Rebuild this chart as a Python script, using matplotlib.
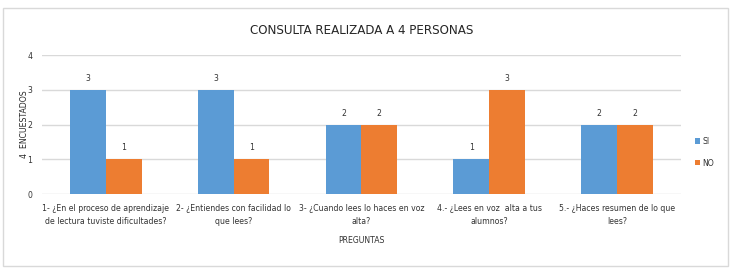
import matplotlib.pyplot as plt
import numpy as np
from matplotlib import font_manager as fm
from matplotlib.patches import Rectangle

preguntas = ['1- ¿En el proceso de aprendizaje\nde lectura tuviste dificultades?',
             '2- ¿Entiendes con facilidad lo\nque lees?',
             '3- ¿Cuando lees lo haces en voz\nalta?',
             '4.- ¿Lees en voz  alta a tus\nalumnos?',
             '5.- ¿Haces resumen de lo que\nlees?']
si = [3, 3, 2, 1, 2]
no = [1, 1, 2, 3, 2]

# pick a narrow font if there is one, the reference uses Calibri
names = {f.name for f in fm.fontManager.ttflist}
narrow = [f for f in fm.fontManager.ttflist
          if f.name == 'DejaVu Sans' and f.stretch == 'condensed' and f.weight in (400, 'normal')]
if 'Liberation Sans Narrow' in names:
    plt.rcParams['font.family'] = ['Liberation Sans Narrow', 'DejaVu Sans']
    k = 1.0
elif narrow:
    plt.rcParams['font.family'] = ['DejaVu Sans']
    plt.rcParams['font.stretch'] = 'condensed'
    k = 0.95
else:
    plt.rcParams['font.family'] = ['Liberation Sans', 'DejaVu Sans']
    k = 0.88
fs = 6.5 * k

fig = plt.figure(figsize=(7.32, 2.69), dpi=100)
fig.patches.append(Rectangle((0.004, 0.012), 0.99, 0.96, transform=fig.transFigure,
                             fill=False, edgecolor='#d9d9d9', linewidth=1))
ax = fig.add_axes([0.0574, 0.2788, 0.8726, 0.5167])

x = np.arange(len(si))
w = 0.28
b1 = ax.bar(x - w / 2, si, w, color='#5b9bd5', label='SI', zorder=3)
b2 = ax.bar(x + w / 2, no, w, color='#ed7d31', label='NO', zorder=3)
ax.bar_label(b1, padding=5, fontsize=fs, color='#333333')
ax.bar_label(b2, padding=5, fontsize=fs, color='#333333')

ax.set_xlim(-0.5, 4.5)
ax.set_ylim(0, 4)
ax.set_yticks([0, 1, 2, 3, 4])
ax.set_xticks(x)
ax.set_xticklabels(preguntas, fontsize=fs, color='#333333', linespacing=1.65)
ax.tick_params(axis='y', labelsize=fs, colors='#333333', length=0, pad=7)
ax.tick_params(axis='x', length=0, pad=7)
ax.grid(axis='y', color='#d9d9d9', linewidth=1, zorder=0)
for s in ax.spines.values():
    s.set_visible(False)

ax.set_title('CONSULTA REALIZADA A 4 PERSONAS', fontsize=10 * k, color='#262626', pad=15)
ax.set_ylabel('4  ENCUESTADOS', fontsize=fs, color='#262626', labelpad=-1)
ax.set_xlabel('PREGUNTAS', fontsize=fs, color='#333333', labelpad=7)

ax.legend(loc='center left', bbox_to_anchor=(1.01, 0.3), frameon=False, fontsize=fs,
          handlelength=0.6, handleheight=0.6, handletextpad=0.3, labelspacing=1.5,
          labelcolor='#333333')

fig.savefig('out.png', dpi=100)
